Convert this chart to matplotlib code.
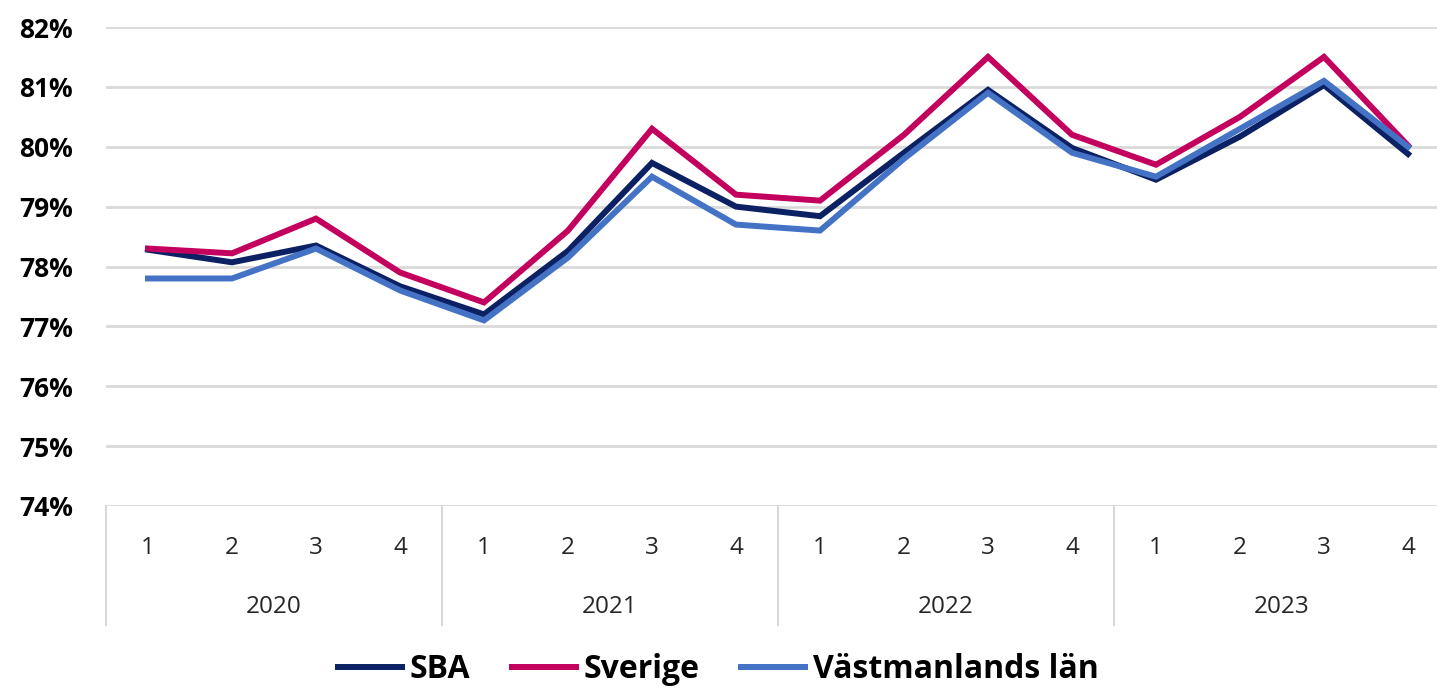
import matplotlib
matplotlib.use("Agg")
import matplotlib.pyplot as plt
import matplotlib.transforms as mtransforms

# data (percent)
years = ["2020", "2021", "2022", "2023"]
quarters = ["1", "2", "3", "4"]
sba = [78.28, 78.07, 78.35, 77.67, 77.20, 78.26, 79.73, 79.00,
       78.84, 79.90, 80.95, 79.98, 79.45, 80.17, 81.03, 79.88]
sverige = [78.30, 78.22, 78.80, 77.90, 77.40, 78.60, 80.30, 79.20,
           79.10, 80.20, 81.50, 80.20, 79.70, 80.50, 81.50, 80.02]
vastmanland = [77.80, 77.80, 78.30, 77.60, 77.10, 78.15, 79.50, 78.70,
               78.60, 79.80, 80.90, 79.90, 79.50, 80.30, 81.10, 80.00]
yticks = [74, 75, 76, 77, 78, 79, 80, 81, 82]

plt.rcParams['font.family'] = ['Open Sans', 'DejaVu Sans']

fig = plt.figure(figsize=(14.37, 6.88), dpi=100)
ax = fig.add_axes([106 / 1437, 182 / 688, 1344 / 1437, 479 / 688])

x = list(range(len(sba)))
ax.plot(x, sba, color="#0b2163", lw=4.3, label="SBA", solid_joinstyle="miter")
ax.plot(x, sverige, color="#c4005f", lw=4.3, label="Sverige", solid_joinstyle="miter")
ax.plot(x, vastmanland, color="#4472c4", lw=4.3, label="Västmanlands län", solid_joinstyle="miter")

ax.set_xlim(-0.5, 15.5)
ax.set_ylim(74, 82)
ax.set_yticks(yticks)
ax.set_yticklabels([f"{t}%" for t in yticks], fontsize=19, fontweight="bold")
ax.tick_params(axis="y", length=0, pad=24)
ax.set_xticks([])
ax.yaxis.grid(True, color="#d9d9d9", lw=2)
ax.set_axisbelow(True)
for s in ax.spines.values():
    s.set_visible(False)

# two-level category axis
trans = mtransforms.blended_transform_factory(ax.transData, ax.transAxes)
for i in x:
    ax.text(i, -0.088, quarters[i % 4], transform=trans, ha="center", va="center",
            fontsize=17.5, color="#262626")
for g, yr in enumerate(years):
    ax.text(g * 4 + 1.5, -0.211, yr, transform=trans, ha="center", va="center",
            fontsize=17.5, color="#262626")
for b in [-0.5, 3.5, 7.5, 11.5, 15.5]:
    ax.plot([b, b], [0, -0.248], transform=trans, color="#d9d9d9", lw=1.5, clip_on=False)

fig.legend(loc="center", bbox_to_anchor=(0.5, 0.027), ncol=3, frameon=False,
           prop={"size": 23, "weight": "bold"}, handlelength=2.0, columnspacing=1.3,
           handletextpad=0.25)

fig.savefig("out.png", dpi=100)
